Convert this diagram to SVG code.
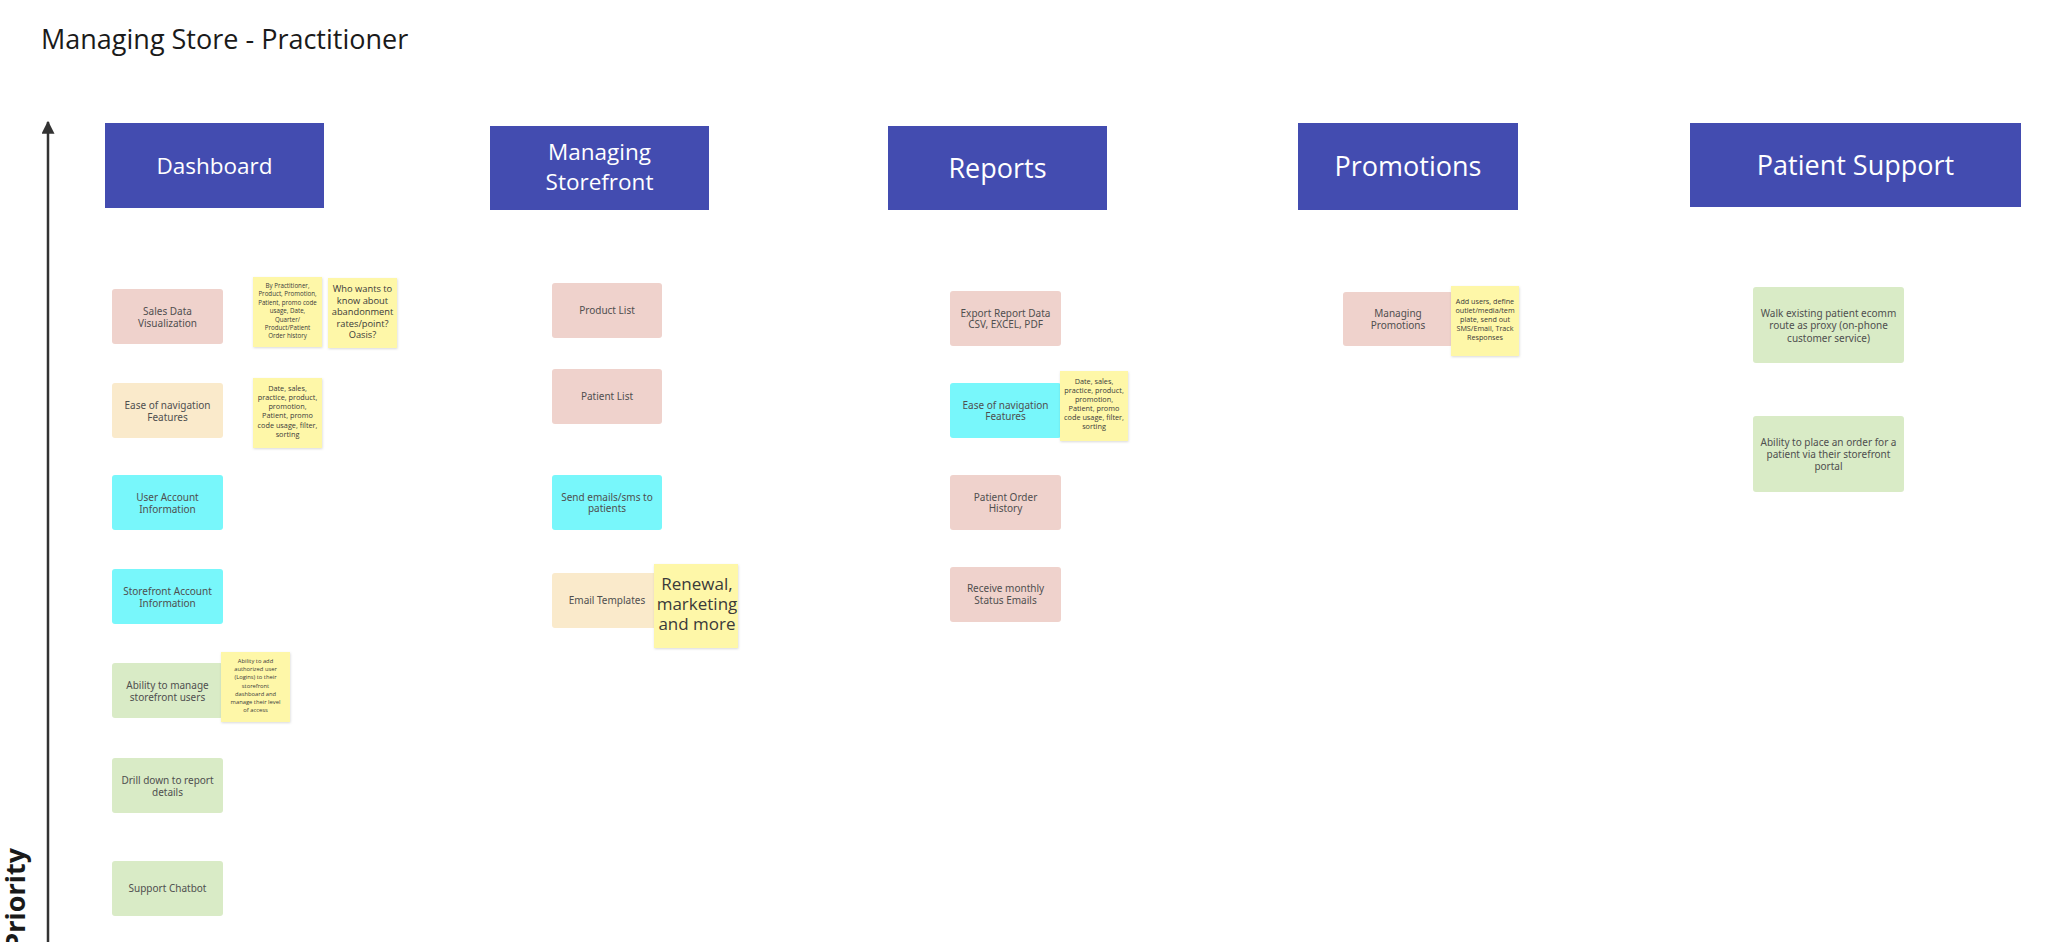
<svg xmlns="http://www.w3.org/2000/svg" width="2056" height="942" viewBox="0 0 2056 942">
<defs>
<style>
.hdr{fill:#434CB0}
.ht{fill:#ffffff;font-family:"Open Sans","Noto Sans",sans-serif;text-anchor:middle}
.pink{fill:#EFD2CC}
.peach{fill:#FAEACB}
.cyan{fill:#78F7FB}
.green{fill:#D9EBC6}
.note{fill:#FEF7A8;filter:url(#sh)}
.ct{font-family:"Noto Sans",sans-serif;font-size:10px;fill:#4f4f4f;text-anchor:middle}
.nt{font-family:"Open Sans","Noto Sans",sans-serif;fill:#3a3a3a;text-anchor:middle}
</style>
<filter id="sh" x="-10%" y="-10%" width="130%" height="130%">
<feDropShadow dx="0.5" dy="1" stdDeviation="0.8" flood-color="#000" flood-opacity="0.15"/>
</filter>
<marker id="ah" viewBox="0 0 10 10" refX="9" refY="5" markerWidth="13" markerHeight="13" markerUnits="userSpaceOnUse" orient="auto">
<path d="M0,0 L10,5 L0,10 Z" fill="#333"/>
</marker>
</defs>
<rect width="2056" height="942" fill="#ffffff"/>
<text x="41" y="49" font-family="'Open Sans','Noto Sans',sans-serif" font-size="27" fill="#1a1a1a">Managing Store - Practitioner</text>

<g id="connectors">
<line x1="48" y1="942" x2="48" y2="122" stroke="#333" stroke-width="2.5" marker-end="url(#ah)"/>
</g>
<g id="axis-label">
<text transform="translate(25,848) rotate(-90)" text-anchor="end" font-family="'Open Sans','Noto Sans',sans-serif" font-weight="bold" font-size="27" fill="#1a1a1a">Priority</text>
</g>

<g id="hdr-dashboard"><rect class="hdr" x="105" y="123" width="219" height="85"/><text class="ht" x="214.5" y="174" font-size="22.5">Dashboard</text></g>
<g id="hdr-storefront"><rect class="hdr" x="490" y="126" width="219" height="84"/><text class="ht" x="599.5" y="160" font-size="22.5">Managing</text><text class="ht" x="599.5" y="190" font-size="22.5">Storefront</text></g>
<g id="hdr-reports"><rect class="hdr" x="888" y="126" width="219" height="84"/><text class="ht" x="997.5" y="177.5" font-size="27">Reports</text></g>
<g id="hdr-promotions"><rect class="hdr" x="1298" y="123" width="220" height="87"/><text class="ht" x="1408" y="176" font-size="27">Promotions</text></g>
<g id="hdr-support"><rect class="hdr" x="1690" y="123" width="331" height="84"/><text class="ht" x="1855.5" y="175" font-size="27">Patient Support</text></g>

<g id="d-sales"><rect class="pink" x="112" y="289" width="111" height="55" rx="3"/><text class="ct" x="167.5" y="315"><tspan x="167.5">Sales Data</tspan><tspan x="167.5" dy="11.5">Visualization</tspan></text></g>
<g id="d-note1"><rect class="note" x="253" y="277" width="69" height="70"/><text class="nt" font-size="6.2" x="287.5" y="288"><tspan x="287.5">By Practitioner,</tspan><tspan x="287.5" dy="8.4">Product, Promotion,</tspan><tspan x="287.5" dy="8.4">Patient, promo code</tspan><tspan x="287.5" dy="8.4">usage, Date,</tspan><tspan x="287.5" dy="8.4">Quarter/</tspan><tspan x="287.5" dy="8.4">Product/Patient</tspan><tspan x="287.5" dy="8.4">Order history</tspan></text></g>
<g id="d-note2"><rect class="note" x="328" y="278" width="69" height="70"/><text class="nt" font-size="9.3" x="362.5" y="292"><tspan x="362.5">Who wants to</tspan><tspan x="362.5" dy="11.5">know about</tspan><tspan x="362.5" dy="11.5">abandonment</tspan><tspan x="362.5" dy="11.5">rates/point?</tspan><tspan x="362.5" dy="11.5">Oasis?</tspan></text></g>
<g id="d-ease"><rect class="peach" x="112" y="383" width="111" height="55" rx="3"/><text class="ct" x="167.5" y="409"><tspan x="167.5">Ease of navigation</tspan><tspan x="167.5" dy="11.5">Features</tspan></text></g>
<g id="d-note3"><rect class="note" x="253" y="378" width="69" height="70"/><text class="nt" font-size="7.3" x="287.5" y="390.5"><tspan x="287.5">Date, sales,</tspan><tspan x="287.5" dy="9.3">practice, product,</tspan><tspan x="287.5" dy="9.3">promotion,</tspan><tspan x="287.5" dy="9.3">Patient, promo</tspan><tspan x="287.5" dy="9.3">code usage, filter,</tspan><tspan x="287.5" dy="9.3">sorting</tspan></text></g>
<g id="d-user"><rect class="cyan" x="112" y="475" width="111" height="55" rx="3"/><text class="ct" x="167.5" y="501"><tspan x="167.5">User Account</tspan><tspan x="167.5" dy="11.5">Information</tspan></text></g>
<g id="d-storeacct"><rect class="cyan" x="112" y="569" width="111" height="55" rx="3"/><text class="ct" x="167.5" y="595"><tspan x="167.5">Storefront Account</tspan><tspan x="167.5" dy="11.5">Information</tspan></text></g>
<g id="d-manage"><rect class="green" x="112" y="663" width="111" height="55" rx="3"/><text class="ct" x="167.5" y="689"><tspan x="167.5">Ability to manage</tspan><tspan x="167.5" dy="11.5">storefront users</tspan></text></g>
<g id="d-note4"><rect class="note" x="221" y="652" width="69" height="70"/><text class="nt" font-size="5.8" x="255.5" y="663" fill="#4a3f20"><tspan x="255.5">Ability to add</tspan><tspan x="255.5" dy="8.2">authorized user</tspan><tspan x="255.5" dy="8.2">(Logins) to their</tspan><tspan x="255.5" dy="8.2">storefront</tspan><tspan x="255.5" dy="8.2">dashboard and</tspan><tspan x="255.5" dy="8.2">manage their level</tspan><tspan x="255.5" dy="8.2">of access</tspan></text></g>
<g id="d-drill"><rect class="green" x="112" y="758" width="111" height="55" rx="3"/><text class="ct" x="167.5" y="784"><tspan x="167.5">Drill down to report</tspan><tspan x="167.5" dy="11.5">details</tspan></text></g>
<g id="d-chatbot"><rect class="green" x="112" y="861" width="111" height="55" rx="3"/><text class="ct" x="167.5" y="892">Support Chatbot</text></g>

<g id="s-product"><rect class="pink" x="552" y="283" width="110" height="55" rx="3"/><text class="ct" x="607" y="314">Product List</text></g>
<g id="s-patient"><rect class="pink" x="552" y="369" width="110" height="55" rx="3"/><text class="ct" x="607" y="400">Patient List</text></g>
<g id="s-send"><rect class="cyan" x="552" y="475" width="110" height="55" rx="3"/><text class="ct" x="607" y="500.5"><tspan x="607">Send emails/sms to</tspan><tspan x="607" dy="11.5">patients</tspan></text></g>
<g id="s-email"><rect class="peach" x="552" y="573" width="110" height="55" rx="3"/><text class="ct" x="607" y="604">Email Templates</text></g>
<g id="s-note"><rect class="note" x="654" y="564" width="84" height="84"/><text class="nt" font-size="17" x="697" y="590" fill="#1f1f1f"><tspan x="697">Renewal,</tspan><tspan x="697" dy="20">marketing</tspan><tspan x="697" dy="20">and more</tspan></text></g>

<g id="r-export"><rect class="pink" x="950" y="291" width="111" height="55" rx="3"/><text class="ct" x="1005.5" y="316.5"><tspan x="1005.5">Export Report Data</tspan><tspan x="1005.5" dy="11.5">CSV, EXCEL, PDF</tspan></text></g>
<g id="r-ease"><rect class="cyan" x="950" y="383" width="111" height="55" rx="3"/><text class="ct" x="1005.5" y="408.5"><tspan x="1005.5">Ease of navigation</tspan><tspan x="1005.5" dy="11.5">Features</tspan></text></g>
<g id="r-note"><rect class="note" x="1060" y="371" width="68" height="70"/><text class="nt" font-size="7.3" x="1094" y="383.5"><tspan x="1094">Date, sales,</tspan><tspan x="1094" dy="9">practice, product,</tspan><tspan x="1094" dy="9">promotion,</tspan><tspan x="1094" dy="9">Patient, promo</tspan><tspan x="1094" dy="9">code usage, filter,</tspan><tspan x="1094" dy="9">sorting</tspan></text></g>
<g id="r-history"><rect class="pink" x="950" y="475" width="111" height="55" rx="3"/><text class="ct" x="1005.5" y="500.5"><tspan x="1005.5">Patient Order</tspan><tspan x="1005.5" dy="11.5">History</tspan></text></g>
<g id="r-monthly"><rect class="pink" x="950" y="567" width="111" height="55" rx="3"/><text class="ct" x="1005.5" y="592"><tspan x="1005.5">Receive monthly</tspan><tspan x="1005.5" dy="11.5">Status Emails</tspan></text></g>

<g id="p-manage"><rect class="pink" x="1343" y="292" width="110" height="54" rx="3"/><text class="ct" x="1398" y="317"><tspan x="1398">Managing</tspan><tspan x="1398" dy="11.5">Promotions</tspan></text></g>
<g id="p-note"><rect class="note" x="1451" y="286" width="68" height="70"/><text class="nt" font-size="7.2" x="1485" y="304"><tspan x="1485">Add users, define</tspan><tspan x="1485" dy="9">outlet/media/tem</tspan><tspan x="1485" dy="9">plate, send out</tspan><tspan x="1485" dy="9">SMS/Email, Track</tspan><tspan x="1485" dy="9">Responses</tspan></text></g>

<g id="ps-walk"><rect class="green" x="1753" y="287" width="151" height="76" rx="3"/><text class="ct" x="1828.5" y="317"><tspan x="1828.5">Walk existing patient ecomm</tspan><tspan x="1828.5" dy="12.3">route as proxy (on-phone</tspan><tspan x="1828.5" dy="12.3">customer service)</tspan></text></g>
<g id="ps-order"><rect class="green" x="1753" y="416" width="151" height="76" rx="3"/><text class="ct" x="1828.5" y="446"><tspan x="1828.5">Ability to place an order for a</tspan><tspan x="1828.5" dy="12">patient via their storefront</tspan><tspan x="1828.5" dy="12">portal</tspan></text></g>
</svg>
